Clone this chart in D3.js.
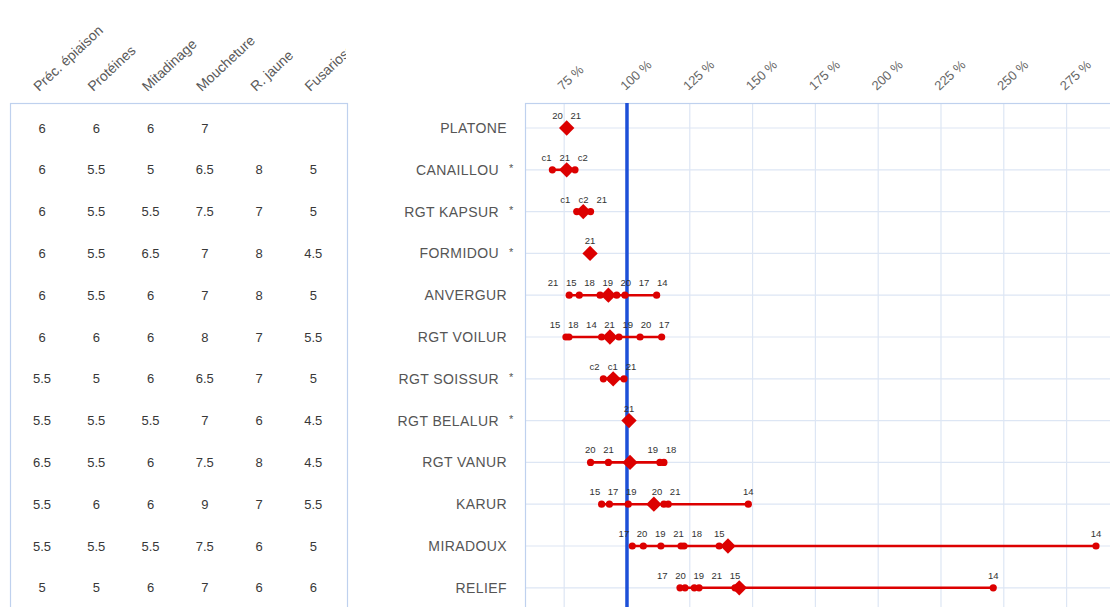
<!DOCTYPE html>
<html>
<head>
<meta charset="utf-8">
<script src="https://cdn.jsdelivr.net/npm/d3@7"></script>
<style>
  html, body { margin: 0; padding: 0; background: #fff; }
  svg { display: block; font-family: Arial, "Liberation Sans", sans-serif; }
</style>
</head>
<body>
<svg id="chart" width="1110" height="607"></svg>
<script>
// ---------- DATA ----------
const varietes = ["PLATONE", "CANAILLOU", "RGT KAPSUR", "FORMIDOU", "ANVERGUR", "RGT VOILUR",
  "RGT SOISSUR", "RGT BELALUR", "RGT VANUR", "KARUR", "MIRADOUX", "RELIEF"];
const marquees = [false, true, true, true, false, false, true, true, false, false, false, false];

const colonnes = ["Préc. épiaison", "Protéines", "Mitadinage", "Moucheture", "R. jaune", "Fusariose"];
const precEpiaison = [6, 6, 6, 6, 6, 6, 5.5, 5.5, 6.5, 5.5, 5.5, 5];
const proteines    = [6, 5.5, 5.5, 5.5, 5.5, 6, 5, 5.5, 5.5, 6, 5.5, 5];
const mitadinage   = [6, 5, 5.5, 6.5, 6, 6, 6, 5.5, 6, 6, 5.5, 6];
const moucheture   = [7, 6.5, 7.5, 7, 7, 8, 6.5, 7, 7.5, 9, 7.5, 7];
const rouilleJaune = [null, 8, 7, 8, 8, 7, 7, 6, 8, 7, 6, 6];
const fusariose    = [null, 5, 5, 4.5, 5, 5.5, 5, 4.5, 4.5, 5.5, 5, 6];

// year / trial labels and values (% of reference) for each variety
const essais = [
  ["20", "21"],
  ["c1", "21", "c2"],
  ["c1", "c2", "21"],
  ["21"],
  ["21", "15", "18", "19", "20", "17", "14"],
  ["15", "18", "14", "21", "19", "20", "17"],
  ["c2", "c1", "21"],
  ["21"],
  ["20", "21", "19", "18"],
  ["15", "17", "19", "20", "21", "14"],
  ["17", "20", "19", "21", "18", "15", "14"],
  ["17", "20", "19", "21", "15", "14"]
];
const valeurs = [
  [75.6, 76.3],
  [70.3, 76.0, 79.3],
  [80.0, 82.6, 85.5],
  [85.3],
  [77.0, 81.0, 89.3, 92.0, 95.9, 99.2, 111.8],
  [75.7, 76.9, 89.9, 93.2, 96.8, 105.2, 113.8],
  [90.6, 93.6, 98.8],
  [100.8],
  [85.5, 92.6, 113.1, 114.7],
  [89.9, 93.0, 100.5, 114.7, 116.4, 148.3],
  [102.1, 106.5, 113.5, 121.5, 122.7, 136.7, 286.7],
  [121.1, 123.1, 126.8, 128.7, 143.0, 245.8]
];
const moyennes = [76.0, 76.0, 82.6, 85.3, 92.6, 93.2, 94.5, 100.8, 101.2, 110.7, 140.2, 144.7];

const ticks = [75, 100, 125, 150, 175, 200, 225, 250, 275];
const reference = 100;

// ---------- LAYOUT ----------
const W = 1110, H = 607;
const svg = d3.select("#chart");
const topY = 103;
const table = { left: 10, right: 347 };
const plotLeft = 525;

const x = d3.scaleLinear().domain([60, 300]).range([526.5, 1129.4]);
const y = d3.scalePoint().domain(varietes).range([128, 128 + 11 * 41.8]);
const colX = d3.scalePoint().domain(colonnes).range([42, 313.3]);

const red = "#dc0000", grid = "#dde6f4", border = "#bfd1ee";

// ---------- TABLE ----------
const colonnesData = [precEpiaison, proteines, mitadinage, moucheture, rouilleJaune, fusariose];

svg.append("defs").append("clipPath").attr("id", "hdrClip")
  .append("rect").attr("x", 0).attr("y", 0).attr("width", table.right - 1).attr("height", topY);

svg.append("g").attr("clip-path", "url(#hdrClip)")
  .selectAll("text").data(colonnes).join("text")
  .attr("transform", d => `translate(${colX(d) - 3},${topY - 11}) rotate(-43)`)
  .attr("font-size", 14).attr("fill", "#5a5a5a")
  .text(d => d);

svg.append("rect")
  .attr("x", table.left + 0.5).attr("y", topY + 0.5)
  .attr("width", table.right - table.left).attr("height", H)
  .attr("fill", "none").attr("stroke", border).attr("stroke-width", 1.2);

colonnesData.forEach((arr, ci) => {
  svg.append("g").selectAll("text").data(arr.map((v, i) => ({ v, i })).filter(d => d.v !== null)).join("text")
    .attr("x", colX(colonnes[ci])).attr("y", d => y(varietes[d.i]))
    .attr("dy", "0.35em").attr("text-anchor", "middle")
    .attr("font-size", 13).attr("fill", "#383838")
    .text(d => d.v);
});

// ---------- ROW LABELS ----------
const lab = svg.append("g");
lab.selectAll("text.name").data(varietes).join("text").attr("class", "name")
  .attr("x", (d, i) => marquees[i] ? 499 : 507)
  .attr("y", d => y(d)).attr("dy", "0.35em").attr("text-anchor", "end")
  .attr("font-size", 14).attr("letter-spacing", 0.4).attr("fill", "#555")
  .text(d => d);
lab.selectAll("text.star").data(varietes.filter((d, i) => marquees[i])).join("text").attr("class", "star")
  .attr("x", 509).attr("y", d => y(d)).attr("dy", "0.2em")
  .attr("font-size", 11).attr("fill", "#555").text("*");

// ---------- PLOT ----------
const plot = svg.append("g");
plot.selectAll("line.v").data(ticks).join("line").attr("class", "v")
  .attr("x1", d => x(d)).attr("x2", d => x(d)).attr("y1", topY).attr("y2", H)
  .attr("stroke", grid).attr("stroke-width", 1.2);
plot.selectAll("line.h").data(varietes).join("line").attr("class", "h")
  .attr("x1", plotLeft).attr("x2", W).attr("y1", d => y(d)).attr("y2", d => y(d))
  .attr("stroke", grid).attr("stroke-width", 1.2);
plot.append("rect")
  .attr("x", plotLeft + 0.5).attr("y", topY + 0.5)
  .attr("width", W).attr("height", H)
  .attr("fill", "none").attr("stroke", border).attr("stroke-width", 1.2);

// x axis labels (rotated)
const axis = d3.axisTop(x).tickValues(ticks).tickSize(0).tickFormat(d => d + " %");
const axG = svg.append("g").attr("transform", `translate(0,${topY})`).call(axis);
axG.select(".domain").remove();
axG.selectAll("text")
  .attr("font-size", 13).attr("fill", "#666").attr("font-family", "Arial, 'Liberation Sans', sans-serif")
  .attr("text-anchor", "start").attr("dy", 0).attr("y", 0)
  .attr("transform", "translate(-2,-12) rotate(-43)");

// reference line
plot.append("line")
  .attr("x1", x(reference)).attr("x2", x(reference)).attr("y1", topY).attr("y2", H)
  .attr("stroke", "#1d50d8").attr("stroke-width", 3.5);

// ranges, points, means, labels
varietes.forEach((v, i) => {
  const vals = valeurs[i];
  const cy = y(v);
  const g = plot.append("g");
  const [mn, mx] = d3.extent(vals);
  g.append("line").attr("x1", x(mn)).attr("x2", x(mx)).attr("y1", cy).attr("y2", cy)
    .attr("stroke", red).attr("stroke-width", 2.6);
  g.selectAll("circle").data(vals).join("circle")
    .attr("cx", d => x(d)).attr("cy", cy).attr("r", 3.6).attr("fill", red);
  g.append("path")
    .attr("d", d3.symbol(d3.symbolDiamond2, 150)())
    .attr("transform", `translate(${x(moyennes[i])},${cy})`)
    .attr("fill", red);

  const items = vals.map((d, k) => ({ t: essais[i][k], x: x(d), w: essais[i][k].length * 5.2 }))
    .sort((a, b) => a.x - b.x);
  for (let it = 0; it < 400; it++) {
    let moved = false;
    for (let k = 1; k < items.length; k++) {
      const need = (items[k - 1].w + items[k].w) / 2 + 7.8;
      const d = items[k].x - items[k - 1].x;
      if (d < need - 0.01) {
        const s = (need - d) / 2;
        items[k - 1].x -= s; items[k].x += s; moved = true;
      }
    }
    if (!moved) break;
  }
  g.selectAll("text").data(items).join("text")
    .attr("x", d => d.x).attr("y", cy - 9).attr("text-anchor", "middle")
    .attr("font-size", 9.5).attr("fill", "#333").text(d => d.t);
});
</script>
</body>
</html>
